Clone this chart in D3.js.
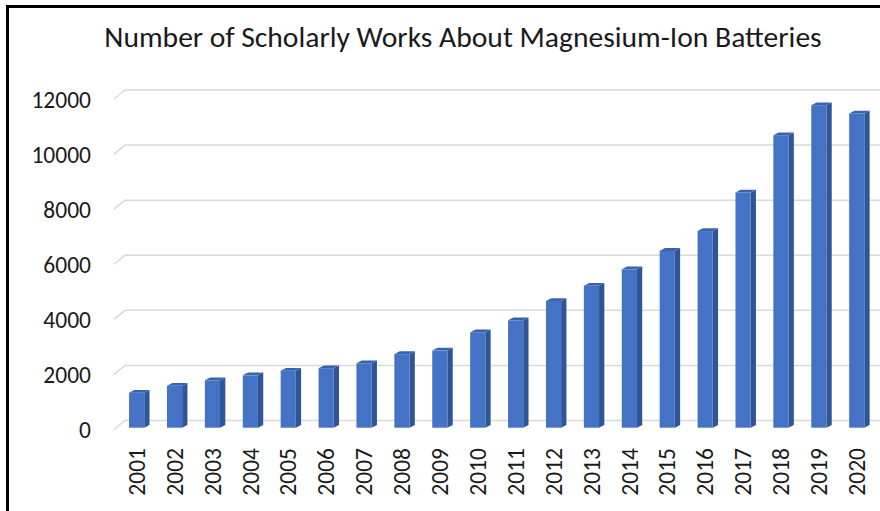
<!DOCTYPE html>
<html>
<head>
<meta charset="utf-8">
<script src="https://cdn.jsdelivr.net/npm/d3@7"></script>
<style>
  html, body { margin: 0; padding: 0; background: #fff; }
  svg { display: block; }
</style>
</head>
<body>
<div id="chart"></div>
<script>
const years = ["2001", "2002", "2003", "2004", "2005", "2006", "2007", "2008", "2009", "2010",
  "2011", "2012", "2013", "2014", "2015", "2016", "2017", "2018", "2019", "2020"]
const works = [1270, 1520, 1720, 1900, 2070, 2160, 2340, 2670, 2800, 3460,
  3900, 4600, 5150, 5750, 6420, 7140, 8540, 10620, 11710, 11410]
const yTicks = [0, 2000, 4000, 6000, 8000, 10000, 12000]

const width = 880
const height = 511
const font = "Carlito, Calibri, Lato, sans-serif"

// 3d offsets (floor depth and bar depth)
const wallDx = 11, wallDy = -9
const barDy = 7.2
const sideDx = 5.3, sideDy = -2.8

const xScale = d3
  .scaleBand()
  .domain(years)
  .range([117.7, 875.7])
  .paddingInner(0.6)
  .paddingOuter(0.3)

const yScale = d3
  .scaleLinear()
  .domain([0, 12000])
  .range([420.5, 90])

const svg = d3
  .create("svg")
  .attr("viewBox", [0, 0, width, height])
  .attr("width", width)
  .attr("height", height)

svg.append("rect")
  .attr("width", width)
  .attr("height", height)
  .attr("fill", "#fff")

// border (right and bottom fall outside the picture)
svg.append("rect")
  .attr("x", 7.5)
  .attr("y", 6.5)
  .attr("width", 950)
  .attr("height", 650)
  .attr("fill", "none")
  .attr("stroke", "#000")
  .attr("stroke-width", 3)

svg.append("text")
  .attr("x", 463)
  .attr("y", 47)
  .attr("text-anchor", "middle")
  .attr("font-family", font)
  .attr("font-size", 29.6)
  .attr("fill", "#1a1a1a")
  .text("Number of Scholarly Works About Magnesium-Ion Batteries")

// gridlines on the back wall with the slanted floor edge
const wallX = 125
const grid = svg.append("g")
  .attr("fill", "none")
  .attr("stroke", "#d9d9d9")
  .attr("stroke-width", 1.5)
grid.selectAll("path")
  .data(yTicks)
  .join("path")
  .attr("d", d => `M${wallX - wallDx},${yScale(d) - wallDy} L${wallX},${yScale(d)} L${width},${yScale(d)}`)

// y axis labels sit at the front end of the slanted lines
const yAxis = d3.axisLeft(yScale)
  .tickValues(yTicks)
  .tickFormat(d3.format("d"))
  .tickSize(0)
  .tickPadding(0)
svg.append("g")
  .attr("transform", `translate(91, ${-wallDy + 0.5})`)
  .call(yAxis)
  .call(g => g.select(".domain").remove())
  .call(g => g.selectAll("text")
    .attr("font-family", font)
    .attr("font-size", 23.5)
    .attr("fill", "#1a1a1a"))

// bars
const bw = xScale.bandwidth()
const bars = svg.append("g")
  .selectAll("g")
  .data(works)
  .join("g")

bars.append("path")
  .attr("fill", "#2f5597")
  .attr("d", (d, i) => {
    const x1 = xScale(years[i]) + bw
    const y0 = yScale(0) + barDy
    const y1 = yScale(d) + barDy
    return `M${x1},${y1} L${x1 + sideDx},${y1 + sideDy} L${x1 + sideDx},${y0 + sideDy} L${x1},${y0}Z`
  })

bars.append("path")
  .attr("fill", "#3963ad")
  .attr("d", (d, i) => {
    const x0 = xScale(years[i])
    const y1 = yScale(d) + barDy
    return `M${x0},${y1} L${x0 + sideDx},${y1 + sideDy} L${x0 + bw + sideDx},${y1 + sideDy} L${x0 + bw},${y1}Z`
  })

bars.append("rect")
  .attr("fill", "#4472c4")
  .attr("x", (d, i) => xScale(years[i]))
  .attr("y", d => yScale(d) + barDy)
  .attr("width", bw)
  .attr("height", d => yScale(0) - yScale(d))

// x axis labels, rotated
const xAxis = d3.axisBottom(xScale).tickSize(0).tickPadding(0)
svg.append("g")
  .attr("transform", "translate(0, 448)")
  .call(xAxis)
  .call(g => g.select(".domain").remove())
  .call(g => g.selectAll("text")
    .attr("font-family", font)
    .attr("font-size", 23.5)
    .attr("fill", "#1a1a1a")
    .attr("text-anchor", "end")
    .attr("dy", "0.35em")
    .attr("y", 0)
    .attr("x", 0)
    .attr("transform", "rotate(-90)"))

document.querySelector("#chart").append(svg.node())
</script>
</body>
</html>
